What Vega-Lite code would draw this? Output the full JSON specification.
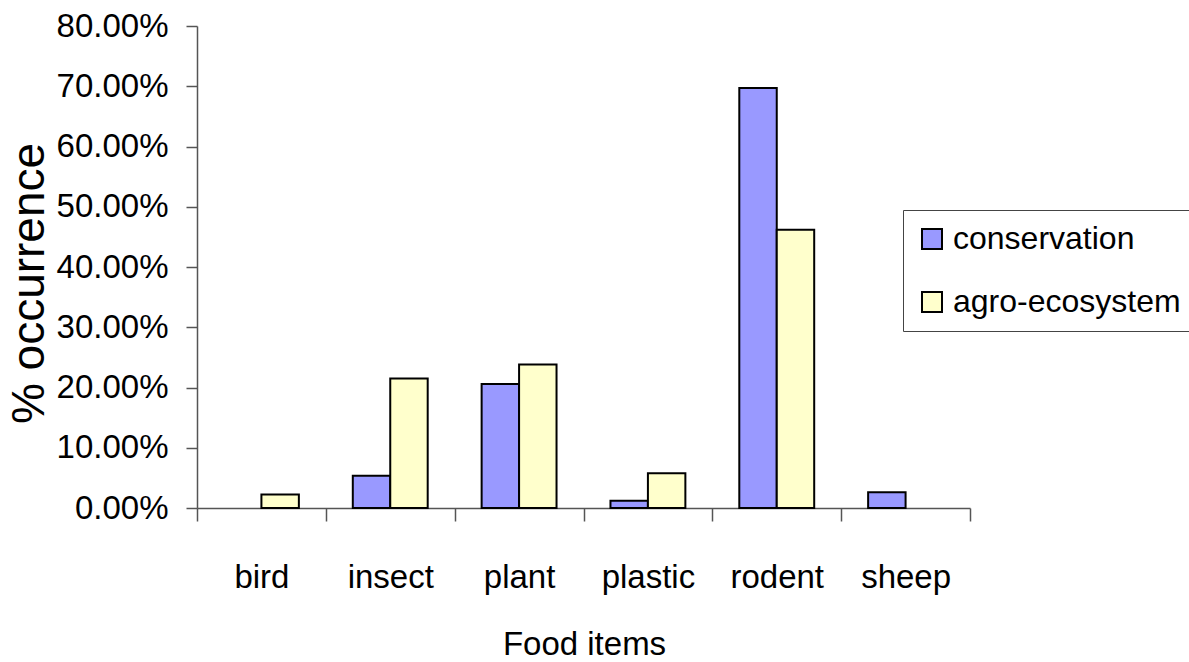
{
  "$schema": "https://vega.github.io/schema/vega-lite/v6.json",
  "width": 773,
  "height": 482,
  "autosize": {"type": "none"},
  "padding": {"left": 197, "top": 26, "right": 219, "bottom": 154},
  "background": "white",
  "config": {
    "view": {"stroke": null},
    "font": "Liberation Sans"
  },
  "data": {
    "values": [
      {"item": "bird", "habitat": "conservation", "value": 0},
      {"item": "bird", "habitat": "agro-ecosystem", "value": 0.0224},
      {"item": "insect", "habitat": "conservation", "value": 0.0537},
      {"item": "insect", "habitat": "agro-ecosystem", "value": 0.215},
      {"item": "plant", "habitat": "conservation", "value": 0.206},
      {"item": "plant", "habitat": "agro-ecosystem", "value": 0.238},
      {"item": "plastic", "habitat": "conservation", "value": 0.012},
      {"item": "plastic", "habitat": "agro-ecosystem", "value": 0.0575},
      {"item": "rodent", "habitat": "conservation", "value": 0.697},
      {"item": "rodent", "habitat": "agro-ecosystem", "value": 0.462},
      {"item": "sheep", "habitat": "conservation", "value": 0.026},
      {"item": "sheep", "habitat": "agro-ecosystem", "value": 0}
    ]
  },
  "mark": {"type": "bar", "stroke": "black"},
  "encoding": {
    "x": {
      "field": "item",
      "type": "nominal",
      "sort": ["bird", "insect", "plant", "plastic", "rodent", "sheep"],
      "scale": {"paddingInner": 0, "paddingOuter": 0},
      "axis": {
        "title": "Food items",
        "labelAngle": 0,
        "labelFontSize": 33,
        "labelFont": "Liberation Sans",
        "labelColor": "black",
        "labelBaseline": "alphabetic",
        "labelPadding": 66,
        "tickBand": "extent",
        "tickSize": 13,
        "tickColor": "#555",
        "domainColor": "#555",
        "tickWidth": 1.5,
        "domainWidth": 1.5,
        "titleFontSize": 33,
        "titleFontWeight": "normal",
        "titleFont": "Liberation Sans",
        "titleColor": "black",
        "titleX": 387,
        "titleY": 146,
        "titleBaseline": "alphabetic",
        "titleAlign": "center"
      }
    },
    "xOffset": {
      "field": "habitat",
      "type": "nominal",
      "sort": ["conservation", "agro-ecosystem"],
      "scale": {"paddingInner": 0, "paddingOuter": 0.72}
    },
    "y": {
      "field": "value",
      "type": "quantitative",
      "scale": {"domain": [0, 0.8], "nice": false},
      "axis": {
        "title": "% occurrence",
        "format": ".2%",
        "values": [0, 0.1, 0.2, 0.3, 0.4, 0.5, 0.6, 0.7, 0.8],
        "grid": false,
        "labelFontSize": 33,
        "labelFont": "Liberation Sans",
        "labelColor": "black",
        "labelPadding": 18,
        "tickSize": 11,
        "tickColor": "#555",
        "domainColor": "#555",
        "tickWidth": 1.5,
        "domainWidth": 1.5,
        "titleFontSize": 46,
        "titleFontWeight": "normal",
        "titleFont": "Liberation Sans",
        "titleColor": "black",
        "titleAngle": -90,
        "titleX": -168,
        "titleY": 257,
        "titleAlign": "center",
        "titleBaseline": "middle"
      }
    },
    "color": {
      "field": "habitat",
      "type": "nominal",
      "sort": ["conservation", "agro-ecosystem"],
      "scale": {"domain": ["conservation", "agro-ecosystem"], "range": ["#9999FF", "#FFFFCC"]},
      "legend": {
        "title": null,
        "orient": "none",
        "legendX": 706,
        "legendY": 184,
        "direction": "vertical",
        "fillColor": "white",
        "strokeColor": "#444",
        "padding": 13,
        "symbolType": "square",
        "symbolSize": 400,
        "symbolStrokeColor": "black",
        "symbolStrokeWidth": 2,
        "labelFontSize": 32,
        "labelFont": "Liberation Sans",
        "labelColor": "black",
        "labelOffset": 5,
        "rowPadding": 31,
        "labelLimit": 400
      }
    },
    "strokeWidth": {
      "condition": {"test": "datum.value > 0", "value": 2},
      "value": 0
    }
  }
}
